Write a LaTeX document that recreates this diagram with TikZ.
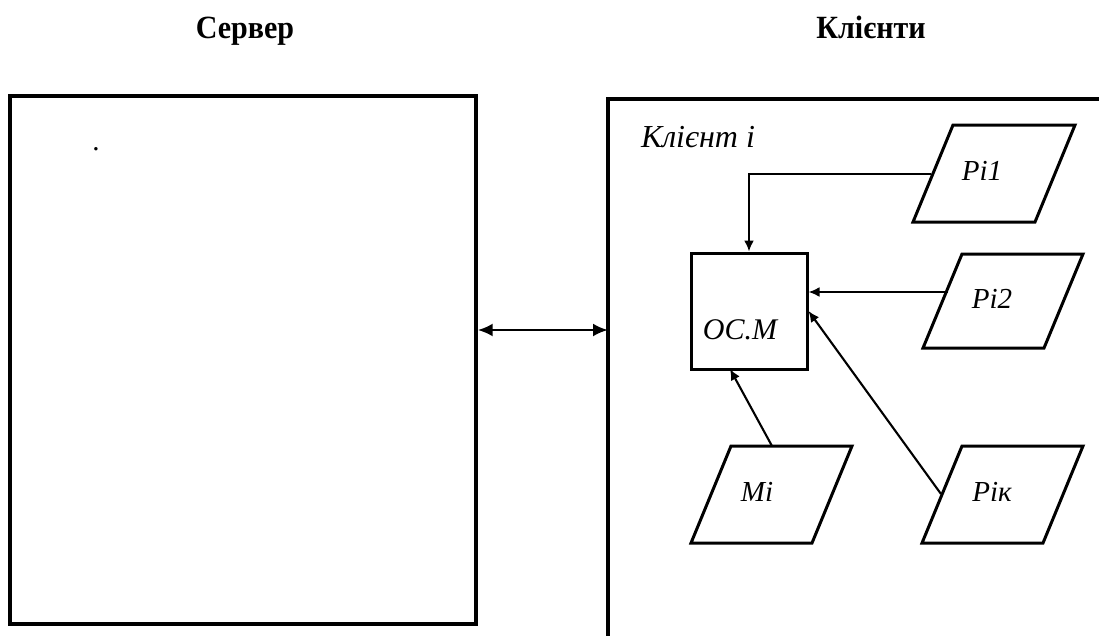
\documentclass[tikz,border=0pt]{standalone}
\usepackage{fontspec}
\setmainfont{Liberation Serif}
\usetikzlibrary{arrows.meta}
\tikzset{
  frame/.style={draw, line width=3.4pt},
  pbox/.style={draw, line width=3pt, line join=miter},
  conn/.style={line width=2.1pt, -{Latex[length=11pt,width=10pt]}},
  dconn/.style={line width=2.6pt, {Latex[length=15pt,width=13pt]}-{Latex[length=15pt,width=13pt]}},
  title/.style={font=\fontsize{30}{34}\selectfont\bfseries, inner sep=0pt, anchor=base},
  lbl/.style={font=\fontsize{29}{34}\selectfont\itshape, inner sep=0pt},
}
\begin{document}
\begin{tikzpicture}[x=1pt,y=-1pt]
\useasboundingbox (0,0) rectangle (1099,635);
% titles
\node[title] (tserver) at (245,38) {\scalebox{1}[1.08]{Сервер}};
\node[title] (tclients) at (871,38) {\scalebox{1}[1.08]{Клієнти}};
% server box
\node[frame, minimum width=466pt, minimum height=528pt, inner sep=0pt] (server) at (243,360) {};
\node[font=\fontsize{29}{34}\selectfont, inner sep=0pt] (dot) at (96,149) {.};
% client frame (open on right and bottom)
\draw[frame] (608,637) |- (1101,99);
\coordinate (cl) at (608,330);
\draw[dconn] (server.east |- cl) -- (cl);
\node[lbl, font=\fontsize{32}{36}\selectfont\itshape, anchor=base] (tclient) at (698,147) {Клієнт і};
% OC.M box
\node[frame, line width=3pt, minimum width=116pt, minimum height=116pt, inner sep=0pt] (ocm) at (749,311) {};
\node[lbl, font=\fontsize{30}{34}\selectfont\itshape] (tocm) at (740,330) {OC.M};
% parallelograms
\draw[pbox] (953,125) -- ++(122,0) -- ++(-40,97) -- ++(-122,0) -- cycle;
\node[lbl] (pi1) at (982,171) {Pi1};
\draw[pbox] (962,254) -- ++(121,0) -- ++(-39,94) -- ++(-121,0) -- cycle;
\node[lbl] (pi2) at (992,299) {Pi2};
\draw[pbox] (731,446) -- ++(121,0) -- ++(-40,97) -- ++(-121,0) -- cycle;
\node[lbl] (mi) at (757,492) {Mi};
\draw[pbox] (962,446) -- ++(121,0) -- ++(-40,97) -- ++(-121,0) -- cycle;
\node[lbl] (pik) at (992,492) {Pік};
% connector anchors on the parallelogram edges
\coordinate (p1in) at (931,174);
\coordinate (p2in) at (948,292);
\coordinate (miout) at (772,446);
\coordinate (pkout) at (941,494);
\coordinate (ocmb) at (730,369);
% connectors
\draw[conn] (p1in) -| (ocm.north);
\draw[conn] (p2in) -- (p2in -| ocm.east);
\draw[conn] (miout) -- (ocmb);
\draw[conn] (pkout) -- (ocm.east);
\end{tikzpicture}
\end{document}
